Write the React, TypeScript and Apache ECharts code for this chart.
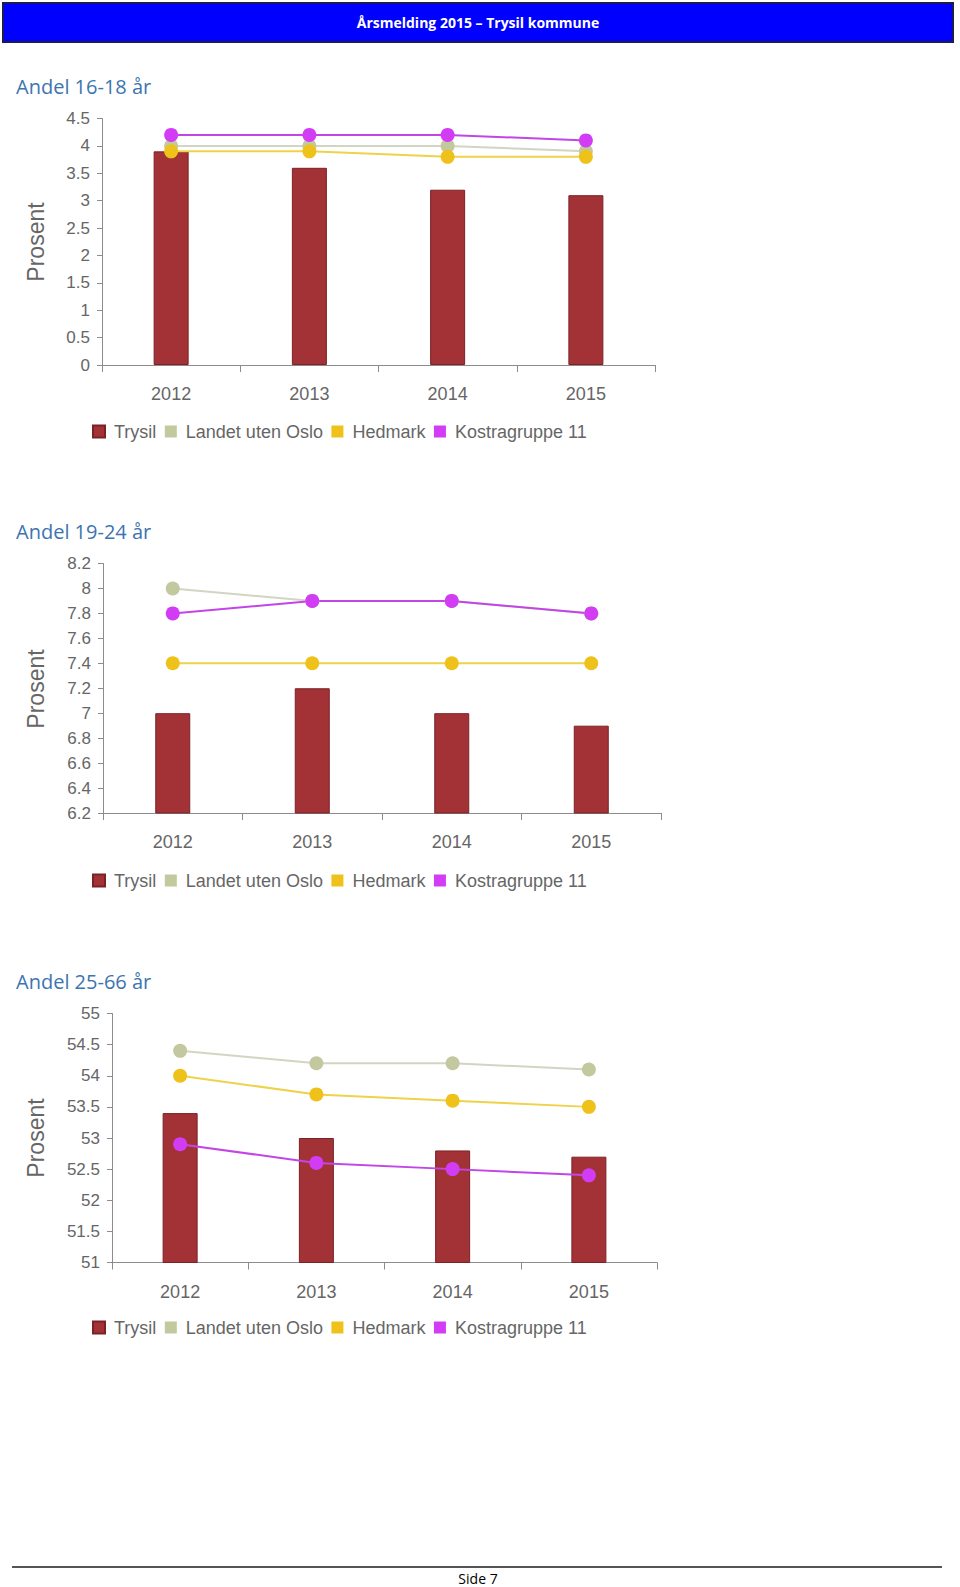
import React, { useEffect, useRef } from "react";
import * as echarts from "echarts";

const categories = ["2012", "2013", "2014", "2015"];
const seriesNames = ["Trysil", "Landet uten Oslo", "Hedmark", "Kostragruppe 11"];

// Andel 16-18 år
const trysil1 = [3.9, 3.6, 3.2, 3.1];
const landet1 = [4.0, 4.0, 4.0, 3.9];
const hedmark1 = [3.9, 3.9, 3.8, 3.8];
const kostra1 = [4.2, 4.2, 4.2, 4.1];

// Andel 19-24 år
const trysil2 = [7.0, 7.2, 7.0, 6.9];
const landet2 = [8.0, 7.9, 7.9, 7.8];
const hedmark2 = [7.4, 7.4, 7.4, 7.4];
const kostra2 = [7.8, 7.9, 7.9, 7.8];

// Andel 25-66 år
const trysil3 = [53.4, 53.0, 52.8, 52.7];
const landet3 = [54.4, 54.2, 54.2, 54.1];
const hedmark3 = [54.0, 53.7, 53.6, 53.5];
const kostra3 = [52.9, 52.6, 52.5, 52.4];

const titles = ["Andel 16-18 år", "Andel 19-24 år", "Andel 25-66 år"];
const yRanges = [
  { min: 0, max: 4.5, interval: 0.5 },
  { min: 6.2, max: 8.2, interval: 0.2 },
  { min: 51, max: 55, interval: 0.5 },
];

const COLORS = {
  bar: "#A33236",
  barBorder: "#7A2226",
  landet: "#C3C89F",
  landetLine: "#D2D5C2",
  hedmark: "#EEC21A",
  hedmarkLine: "#EFD24A",
  kostra: "#D23CF5",
  kostraLine: "#C445E6",
};

const grids = [
  { left: 102, top: 118.5, width: 553, height: 246.5 },
  { left: 103, top: 563.5, width: 558, height: 249.5 },
  { left: 112, top: 1013.5, width: 545, height: 249 },
];
const titleY = [86.5, 531.5, 981.5];
const prosentY = [242, 689, 1138];
const legendTop = [422.5, 871.5, 1318.5];

export default function App() {
  const ref = useRef<HTMLDivElement>(null);
  useEffect(() => {
    if (!ref.current) return;
    const chart = echarts.init(ref.current, null, { renderer: "svg" });
    const data = [
      [trysil1, landet1, hedmark1, kostra1],
      [trysil2, landet2, hedmark2, kostra2],
      [trysil3, landet3, hedmark3, kostra3],
    ];
    const axisColor = "#8C8C8C";
    const labelColor = "#666666";
    const font = "'Liberation Sans', Arial, sans-serif";

    const series: any[] = [];
    data.forEach((d, gi) => {
      series.push({
        type: "bar",
        name: seriesNames[0],
        xAxisIndex: gi,
        yAxisIndex: gi,
        data: d[0],
        barWidth: 35,
        itemStyle: { color: COLORS.bar, borderColor: COLORS.barBorder, borderWidth: 1 },
      });
      const lineDefs = [
        { c: COLORS.landet, l: COLORS.landetLine },
        { c: COLORS.hedmark, l: COLORS.hedmarkLine },
        { c: COLORS.kostra, l: COLORS.kostraLine },
      ];
      lineDefs.forEach((ld, i) => {
        series.push({
          type: "line",
          name: seriesNames[i + 1],
          xAxisIndex: gi,
          yAxisIndex: gi,
          data: d[i + 1],
          symbol: "circle",
          symbolSize: 14,
          lineStyle: { color: ld.l, width: 2 },
          itemStyle: { color: ld.c },
        });
      });
    });

    const graphic: any[] = [
      {
        type: "rect",
        shape: { x: 3, y: 3, width: 950, height: 39 },
        style: { fill: "#0000FF", stroke: "#1C1C50", lineWidth: 2 },
      },
      {
        type: "text",
        x: 478,
        y: 22,
        style: {
          text: "Årsmelding 2015 – Trysil kommune",
          fill: "#FFFFFF",
          font: "bold 14px 'Open Sans', sans-serif",
          textAlign: "center",
          textVerticalAlign: "middle",
        },
      },
      {
        type: "line",
        shape: { x1: 12, y1: 1567, x2: 942, y2: 1567 },
        style: { stroke: "#555555", lineWidth: 2 },
      },
      {
        type: "text",
        x: 478,
        y: 1578,
        style: {
          text: "Side 7",
          fill: "#000000",
          font: "14px 'Open Sans', sans-serif",
          textAlign: "center",
          textVerticalAlign: "middle",
        },
      },
    ];
    titles.forEach((t, i) => {
      graphic.push({
        type: "text",
        x: 16,
        y: titleY[i],
        style: {
          text: t,
          fill: "#3D74B0",
          font: "20px 'Open Sans', sans-serif",
          textAlign: "left",
          textVerticalAlign: "middle",
        },
      });
      graphic.push({
        type: "text",
        x: 36,
        y: prosentY[i],
        rotation: Math.PI / 2,
        style: {
          text: "Prosent",
          fill: labelColor,
          font: "23px " + font,
          textAlign: "center",
          textVerticalAlign: "middle",
        },
      });
    });

    chart.setOption({
      animation: false,
      backgroundColor: "#FFFFFF",
      grid: grids.map((g) => ({ ...g, containLabel: false })),
      xAxis: grids.map((_, i) => ({
        type: "category",
        gridIndex: i,
        data: categories,
        boundaryGap: true,
        axisLine: { lineStyle: { color: axisColor, width: 1 } },
        axisTick: { show: true, length: 7, lineStyle: { color: axisColor } },
        axisLabel: { color: labelColor, fontSize: 18, fontFamily: font, margin: 20 },
        splitLine: { show: false },
      })),
      yAxis: grids.map((_, i) => ({
        type: "value",
        gridIndex: i,
        min: yRanges[i].min,
        max: yRanges[i].max,
        interval: yRanges[i].interval,
        axisLine: { show: true, lineStyle: { color: axisColor, width: 1 } },
        axisTick: { show: true, length: 5, lineStyle: { color: axisColor } },
        axisLabel: { color: labelColor, fontSize: 17, fontFamily: font, margin: 12 },
        splitLine: { show: false },
      })),
      legend: grids.map((_, i) => ({
        data: seriesNames,
        left: 92,
        top: legendTop[i],
        padding: 0,
        orient: "horizontal",
        icon: "rect",
        itemWidth: 12,
        itemHeight: 12,
        itemGap: 8.5,
        selectedMode: false,
        textStyle: { color: labelColor, fontSize: 18, fontFamily: font, padding: [0, 0, 0, 4] },
      })),
      graphic,
      series,
    });
    return () => chart.dispose();
  }, []);
  return (
    <div
      ref={ref}
      style={{ position: "absolute", left: 0, top: 0, width: 960, height: 1587 }}
    />
  );
}
